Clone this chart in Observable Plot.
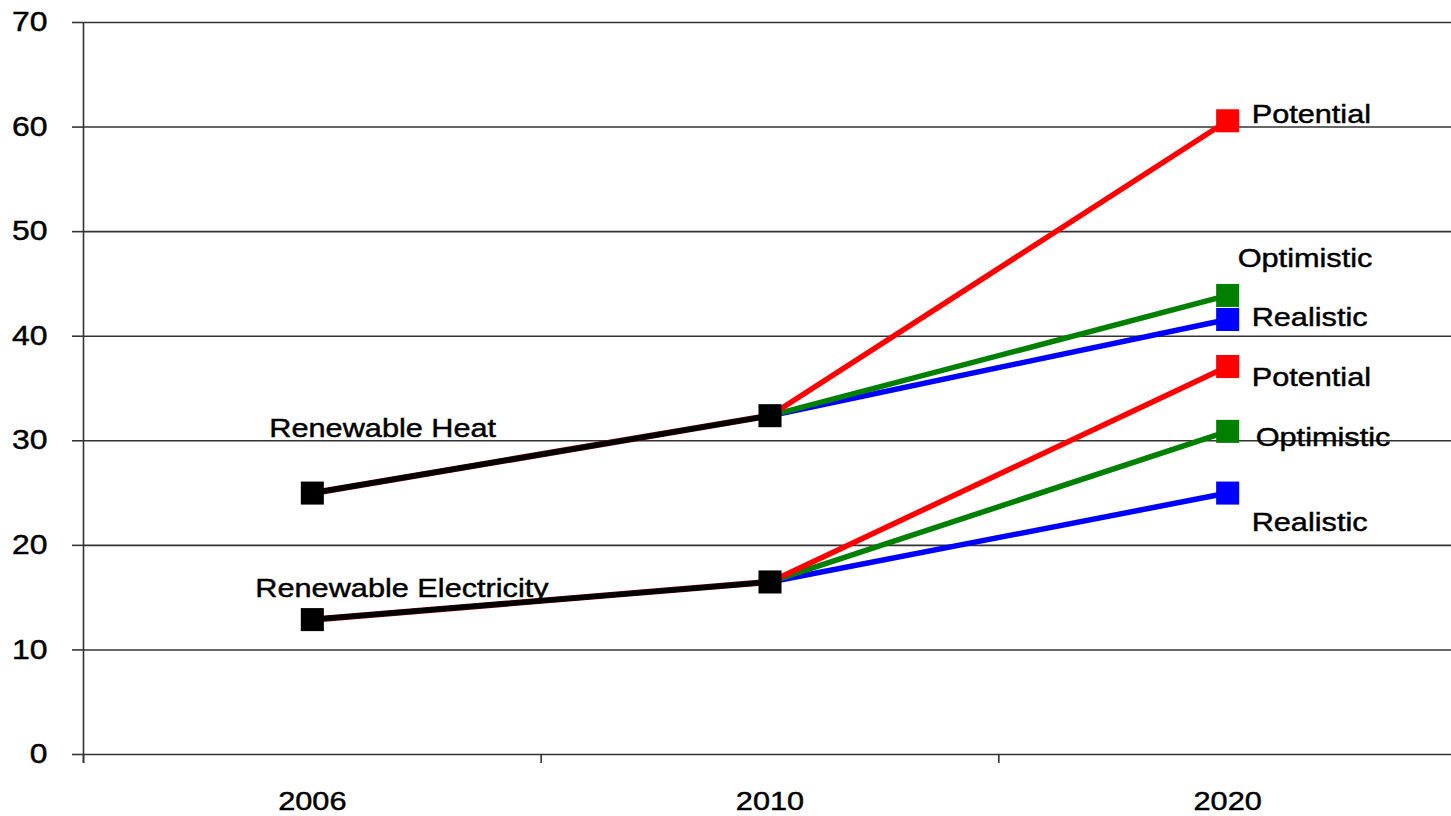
<!DOCTYPE html>
<html><head><meta charset="utf-8">
<script src="https://cdn.jsdelivr.net/npm/d3@7"></script>
<script src="https://cdn.jsdelivr.net/npm/@observablehq/plot@0.6"></script>
<style>body{margin:0;background:#fff;} svg{display:block;} svg text{stroke:#000;stroke-width:0.45px;paint-order:normal;}</style>
</head><body><div id="chart"></div>
<script>
const years = ["2006", "2010", "2020"];
const groups = ["Renewable Heat", "Renewable Electricity"];
const scenarios = ["Potential", "Optimistic", "Realistic"];
const scenarioColors = ["#ff0000", "#008000", "#0000ff"];
const heatHistory = [25.0, 32.4];
const elecHistory = [12.9, 16.5];
const heat2020 = [60.6, 43.9, 41.6];
const elec2020 = [37.1, 30.9, 25.0];
const yTicks = [0, 10, 20, 30, 40, 50, 60, 70];

const xi = y => years.indexOf(y) + 0.5;
const histories = [heatHistory, elecHistory];
const futures = [heat2020, elec2020];

const history = [];
groups.forEach((g, gi) => histories[gi].forEach((v, i) => history.push({group: g, year: years[i], value: v})));
const proj = [];
groups.forEach((g, gi) => scenarios.forEach((s, j) => {
  proj.push({group: g, scenario: s, year: years[1], value: histories[gi][1]});
  proj.push({group: g, scenario: s, year: years[2], value: futures[gi][j]});
}));
// draw blue first, red last
const order = s => -scenarios.indexOf(s);
proj.sort((a, b) => order(a.scenario) - order(b.scenario));
const ends = proj.filter(d => d.year === "2020");
const endOf = (g, s) => ends.filter(d => d.group === g && d.scenario === s);
const startOf = g => history.filter(d => d.group === g && d.year === "2006");

const font = "Liberation Sans, Arial, sans-serif";
const txt = (data, text, dx, dy) => Plot.text(data, {x: d => xi(d.year), y: "value", text: () => text, textAnchor: "start", dx, dy, fontSize: 26, fill: "#000"});

const plot = Plot.plot({
  width: 1451,
  height: 816,
  marginTop: 22,
  marginBottom: 62,
  marginLeft: 83,
  marginRight: 0,
  style: {fontFamily: font, background: "#fff", color: "#000"},
  x: {type: "linear", domain: [0, 3], range: [83, 1456]},
  y: {domain: [0, 70]},
  color: {domain: scenarios, range: scenarioColors},
  marks: [
    Plot.ruleY(yTicks, {x1: 0, x2: 3, stroke: "#333", strokeWidth: 1.6}),
    Plot.ruleX([0], {y1: 70, y2: 0, insetBottom: -9, stroke: "#333", strokeWidth: 1.6}),
    Plot.axisY({ticks: yTicks, label: null, tickSize: 11, tickPadding: 25, fontSize: 27, stroke: "#333", strokeWidth: 1.6, fill: "#000"}),
    Plot.axisX({ticks: [0, 1, 2], label: null, tickSize: 9, tickFormat: () => "", stroke: "#333", strokeWidth: 1.6}),
    Plot.axisX({ticks: [0.5, 1.5, 2.5], label: null, tickSize: 0, tickPadding: 37, fontSize: 26, fill: "#000", tickFormat: d => years[Math.floor(d)]}),
    Plot.line(proj, {x: d => xi(d.year), y: "value", z: d => d.group + d.scenario, stroke: "scenario", strokeWidth: 5.5}),
    Plot.line(history, {x: d => xi(d.year), y: "value", z: "group", stroke: "#5a0000", strokeWidth: 6.2}),
    Plot.line(history, {x: d => xi(d.year), y: "value", z: "group", stroke: "#000", strokeWidth: 5}),
    Plot.dot(history, {x: d => xi(d.year), y: "value", symbol: "square", r: 13, fill: "#000"}),
    Plot.dot(ends, {x: d => xi(d.year), y: "value", symbol: "square", r: 13, fill: "scenario"}),
    txt(startOf(groups[0]), "Renewable Heat", -43, -64),
    txt(startOf(groups[1]), "Renewable Electricity", -57, -31),
    txt(endOf(groups[0], "Potential"), "Potential", 24, -6),
    txt(endOf(groups[0], "Optimistic"), "Optimistic", 10, -37),
    txt(endOf(groups[0], "Realistic"), "Realistic", 24, -2),
    txt(endOf(groups[1], "Potential"), "Potential", 24, 11),
    txt(endOf(groups[1], "Optimistic"), "Optimistic", 28, 6),
    txt(endOf(groups[1], "Realistic"), "Realistic", 24, 30)
  ]
});
document.getElementById("chart").append(plot);
plot.querySelectorAll("text").forEach(t => {
  const L = t.getComputedTextLength();
  if (L > 0) {
    t.setAttribute("textLength", (L * 1.18).toFixed(1));
    t.setAttribute("lengthAdjust", "spacingAndGlyphs");
  }
});
</script>
</body></html>
